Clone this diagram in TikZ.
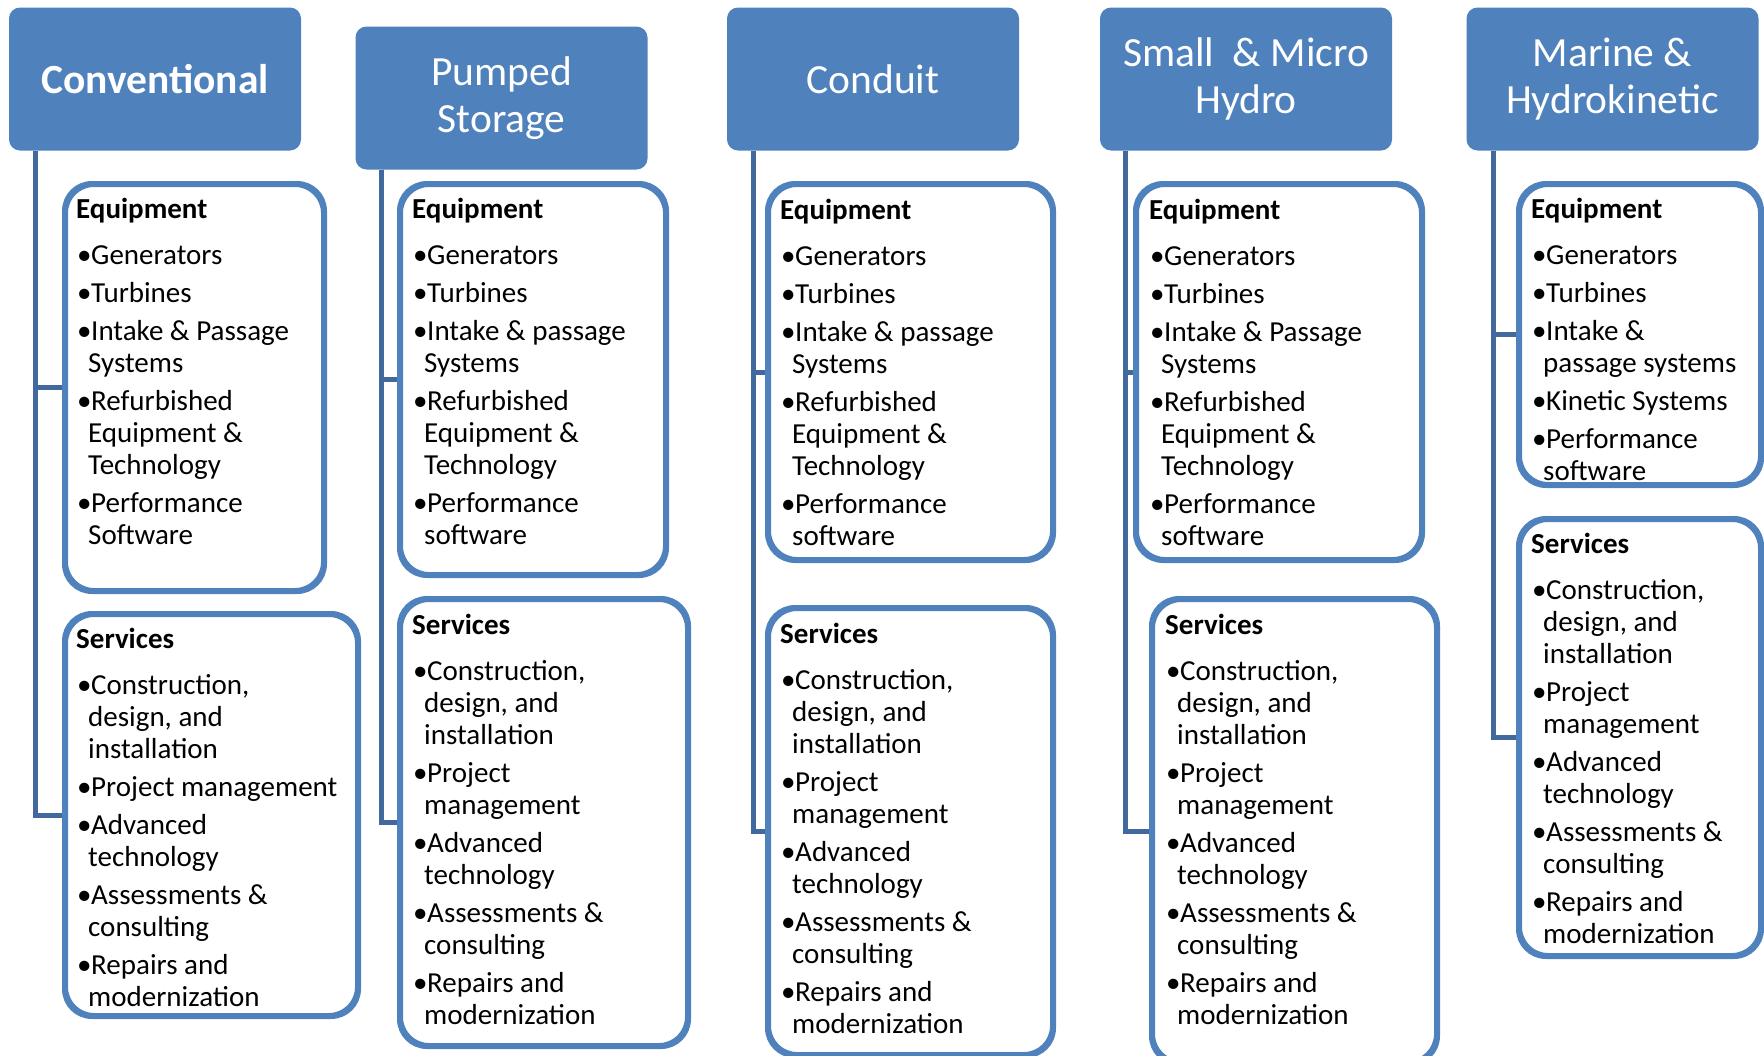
\documentclass[tikz,border=0pt]{standalone}
\usepackage{fontspec}
\setmainfont{Carlito}
\usetikzlibrary{calc}
\definecolor{hdrblue}{HTML}{4F81BD}
\definecolor{boxblue}{HTML}{4F81BD}
\definecolor{lineblue}{HTML}{41699E}
\newcommand\itm{\makebox[15pt][l]{\hspace{1pt}\textbullet}}
\newcommand\cnt{\hspace*{12pt}}
% equipment list: #1 = Passage/passage, #2 = Software/software
\newcommand\eqlist[2]{\textbf{Equipment}\\[14pt]
\itm Generators\\[6pt]
\itm Turbines\\[6pt]
\itm Intake \& #1\\
\cnt Systems\\[6pt]
\itm Refurbished\\
\cnt Equipment \&\\
\cnt Technology\\[6pt]
\itm Performance\\
\cnt #2}
\newcommand\svlist{\textbf{Services}\\[14pt]
\itm Construction,\\
\cnt design, and\\
\cnt installation\\[6pt]
\itm Project\\
\cnt management\\[6pt]
\itm Advanced\\
\cnt technology\\[6pt]
\itm Assessments \&\\
\cnt consulting\\[6pt]
\itm Repairs and\\
\cnt modernization}
\begin{document}
\begin{tikzpicture}[x=1pt,y=-1pt,
  hdr/.style={draw=none, fill=hdrblue, rounded corners=11pt, minimum width=292pt, minimum height=143pt,
    text=white, align=center, inner sep=0pt, font=\fontsize{41.5}{47}\selectfont},
  bx/.style={draw=boxblue, line width=4pt, fill=white, rounded corners=28pt, anchor=north west, inner sep=0pt},
  txt/.style={anchor=north west, align=left, inner sep=0pt, font=\fontsize{29}{32}\selectfont, text=black},
  conn/.style={draw=lineblue, line width=5pt, line join=miter}]
\useasboundingbox (0,0) rectangle (1764,1055);
% headers
\node[hdr] (h1) at (155,79) {\textbf{Conventional}};
\node[hdr] (h2) at (501.5,98) {Pumped\\Storage};
\node[hdr] (h3) at (873,79) {Conduit};
\node[hdr] (h4) at (1246,79) {Small\ \ \& Micro\\Hydro};
\node[hdr] (h5) at (1612.5,79) {Marine \&\\Hydrokinetic};
% trunk start points
\coordinate (t1) at ($(h1.south west)+(27,0)$);
\coordinate (t2) at ($(h2.south west)+(26,0)$);
\coordinate (t3) at ($(h3.south west)+(27,0)$);
\coordinate (t4) at ($(h4.south west)+(26,0)$);
\coordinate (t5) at ($(h5.south west)+(27,0)$);
% boxes
\node[bx, minimum width=257pt, minimum height=405pt] (e1) at (64,183) {};
\node[bx, minimum width=291pt, minimum height=400pt] (s1) at (64,613) {};
\node[bx, minimum width=264pt, minimum height=389pt] (e2) at (399,183) {};
\node[bx, minimum width=286pt, minimum height=445pt] (s2) at (399,598) {};
\node[bx, minimum width=283pt, minimum height=374pt] (e3) at (767,183) {};
\node[bx, minimum width=283pt, minimum height=445pt] (s3) at (767,607) {};
\node[bx, minimum width=284pt, minimum height=374pt] (e4) at (1135,183) {};
\node[bx, minimum width=283pt, minimum height=462pt] (s4) at (1151,598) {};
\node[bx, minimum width=240pt, minimum height=299pt] (e5) at (1518,183) {};
\node[bx, minimum width=240pt, minimum height=435pt] (s5) at (1518,518) {};
% connectors
\draw[conn] (t1) |- (e1.west);
\draw[conn] (t1) |- (s1.west);
\draw[conn] (t2) |- (e2.west);
\draw[conn] (t2) |- (s2.west);
\draw[conn] (t3) |- (e3.west);
\draw[conn] (t3) |- (s3.west);
\draw[conn] (t4) |- (e4.west);
\draw[conn] (t4) |- (s4.west);
\draw[conn] (t5) |- (e5.west);
\draw[conn] (t5) |- (s5.west);
% redraw box borders over connector ends
\foreach \b in {e1,s1,e2,s2,e3,s3,e4,s4,e5,s5}{
  \draw[draw=boxblue, line width=4pt, rounded corners=28pt] (\b.north west) rectangle (\b.south east);
}
% texts
\node[txt] (e1t) at ($(e1.north west)+(12,15)$) {\eqlist{Passage}{Software}};
\node[txt] (s1t) at ($(s1.north west)+(12,15)$) {\textbf{Services}\\[14pt]
\itm Construction,\\
\cnt design, and\\
\cnt installation\\[6pt]
\itm Project management\\[6pt]
\itm Advanced\\
\cnt technology\\[6pt]
\itm Assessments \&\\
\cnt consulting\\[6pt]
\itm Repairs and\\
\cnt modernization};
\node[txt] (e2t) at ($(e2.north west)+(13,15)$) {\eqlist{passage}{software}};
\node[txt] (s2t) at ($(s2.north west)+(13,16)$) {\svlist};
\node[txt] (e3t) at ($(e3.north west)+(13,16)$) {\eqlist{passage}{software}};
\node[txt] (s3t) at ($(s3.north west)+(13,16)$) {\svlist};
\node[txt] (e4t) at ($(e4.north west)+(14,16)$) {\eqlist{Passage}{software}};
\node[txt] (s4t) at ($(s4.north west)+(14,16)$) {\svlist};
\node[txt] (e5t) at ($(e5.north west)+(13,15)$) {\textbf{Equipment}\\[14pt]
\itm Generators\\[6pt]
\itm Turbines\\[6pt]
\itm Intake \&\\
\cnt passage systems\\[6pt]
\itm Kinetic Systems\\[6pt]
\itm Performance\\
\cnt software};
\node[txt] (s5t) at ($(s5.north west)+(13,15)$) {\svlist};
\end{tikzpicture}
\end{document}
